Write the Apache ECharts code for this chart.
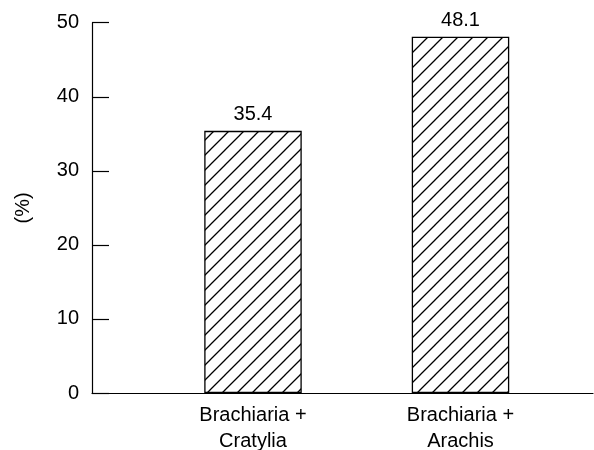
<!DOCTYPE html>
<html><head><meta charset="utf-8">
<script src="https://cdn.jsdelivr.net/npm/echarts@6/dist/echarts.min.js"></script>
<style>html,body{margin:0;padding:0;background:#fff}#c{width:594px;height:450px}</style>
</head><body><div id="c"></div>
<script>
var categories = ['Brachiaria +\nCratylia', 'Brachiaria +\nArachis'];
var values = [35.4, 48.1];
var yTicks = [0, 10, 20, 30, 40, 50];

function hatch() {
  var s = 15, c = document.createElement('canvas');
  c.width = s; c.height = s;
  var g = c.getContext('2d');
  g.fillStyle = '#fff'; g.fillRect(0, 0, s, s);
  g.strokeStyle = '#000'; g.lineWidth = 1.3;
  g.beginPath();
  g.moveTo(-2, s + 2); g.lineTo(s + 2, -2);
  g.moveTo(-2, 2); g.lineTo(2, -2);
  g.moveTo(s - 2, s + 2); g.lineTo(s + 2, s - 2);
  g.stroke();
  return c;
}

var chart = echarts.init(document.getElementById('c'), null, {renderer: 'canvas'});
var font = 'Liberation Sans, Arial, sans-serif';
chart.setOption({
  animation: false,
  textStyle: {fontFamily: font},
  grid: [
    {left: 149.25, right: 29.75, top: 22.7, bottom: 57, containLabel: false, outerBoundsMode: 'none'},
    {left: 92, right: 1, top: 22.7, bottom: 57, containLabel: false, outerBoundsMode: 'none'}
  ],
  xAxis: [
    {type: 'category', gridIndex: 0, data: categories,
     axisLine: {show: false}, axisTick: {show: false},
     axisLabel: {color: '#000', fontSize: 20, lineHeight: 26, margin: 9, fontFamily: font}},
    {type: 'value', gridIndex: 1, min: 0, max: 1,
     axisLine: {show: true, onZero: false, lineStyle: {color: '#000', width: 1.2}},
     axisTick: {show: false}, axisLabel: {show: false}, splitLine: {show: false}}
  ],
  yAxis: [
    {type: 'value', gridIndex: 0, min: yTicks[0], max: yTicks[yTicks.length - 1], interval: 10,
     offset: 57.25,
     name: '(%)', nameLocation: 'middle', nameGap: 59, nameRotate: 90,
     nameTextStyle: {color: '#000', fontSize: 20, fontFamily: font},
     axisLine: {show: true, lineStyle: {color: '#000', width: 1.2}},
     axisTick: {show: true, inside: true, length: 17, lineStyle: {color: '#000', width: 1.2}},
     axisLabel: {color: '#000', fontSize: 20, margin: 13, fontFamily: font},
     splitLine: {show: false}},
    {type: 'value', gridIndex: 1, min: 0, max: 1, show: false}
  ],
  series: [{
    type: 'bar', xAxisIndex: 0, yAxisIndex: 0,
    data: values, barWidth: 97.5,
    itemStyle: {color: {image: hatch(), repeat: 'repeat'}, borderColor: '#000', borderWidth: 1.3},
    label: {show: true, position: 'top', distance: 6, color: '#000', fontSize: 20, fontFamily: font,
            formatter: function (p) { return p.value.toFixed(1); }}
  }]
});
</script></body></html>
